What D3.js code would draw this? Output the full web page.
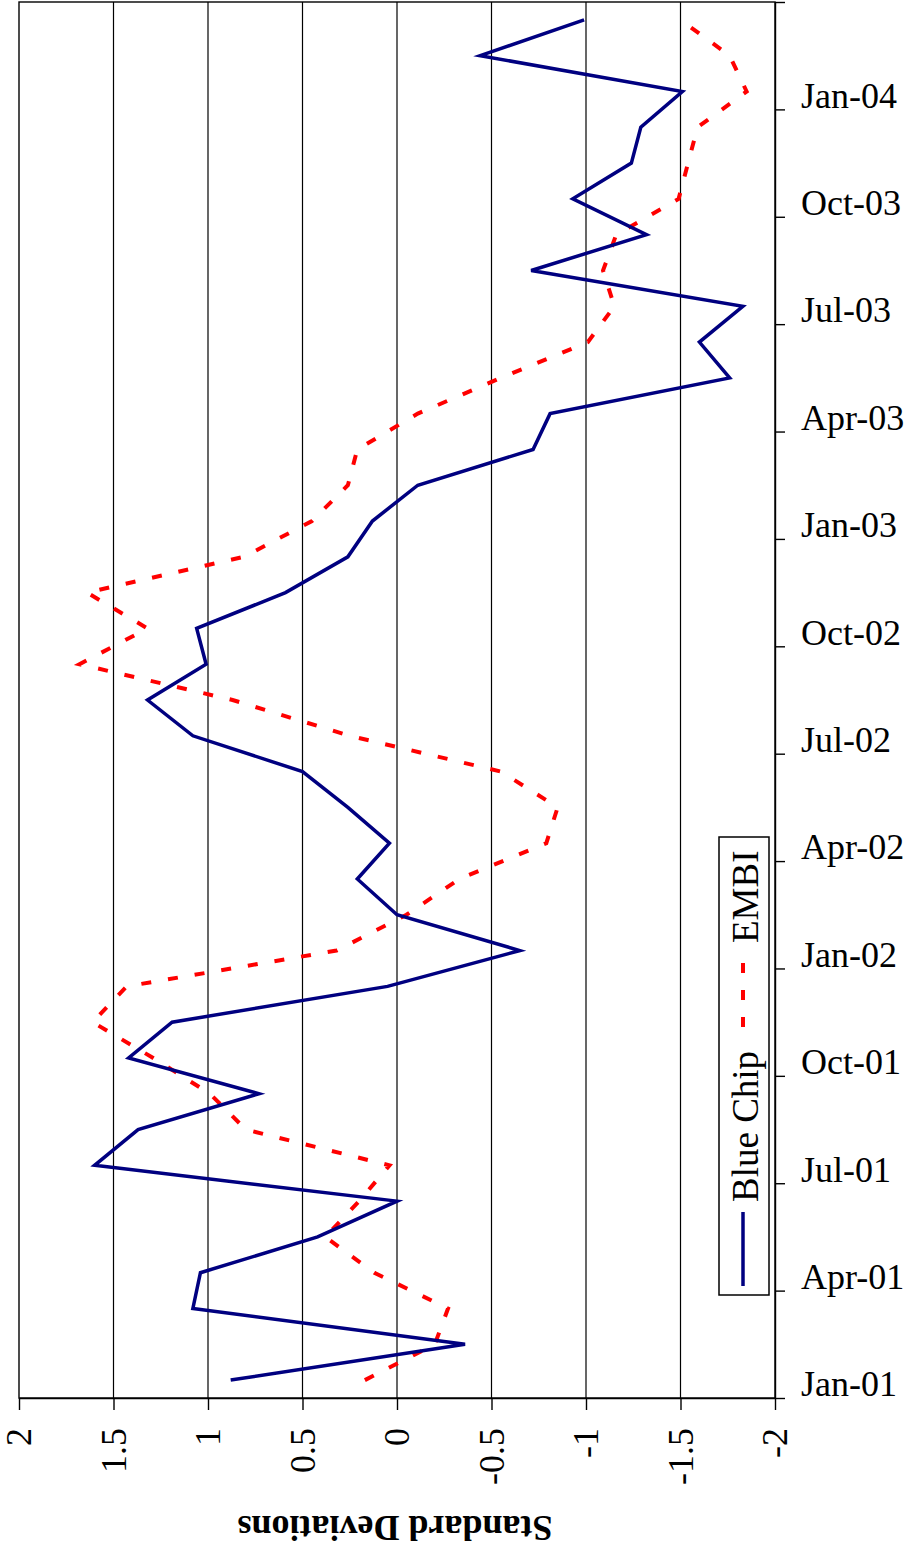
<!DOCTYPE html>
<html>
<head>
<meta charset="utf-8">
<script src="https://cdn.jsdelivr.net/npm/d3@7"></script>
<style>
  body { margin: 0; background: #fff; }
  svg text { font-family: "Liberation Serif", "Times New Roman", serif; fill: #000; }
</style>
</head>
<body>
<div id="my_chart"></div>
<script>
// categories: one per month, Jan-01 .. Mar-04
var months = ["Jan-01","Feb-01","Mar-01","Apr-01","May-01","Jun-01","Jul-01","Aug-01","Sep-01","Oct-01","Nov-01","Dec-01",
              "Jan-02","Feb-02","Mar-02","Apr-02","May-02","Jun-02","Jul-02","Aug-02","Sep-02","Oct-02","Nov-02","Dec-02",
              "Jan-03","Feb-03","Mar-03","Apr-03","May-03","Jun-03","Jul-03","Aug-03","Sep-03","Oct-03","Nov-03","Dec-03",
              "Jan-04","Feb-04","Mar-04"];

// series values (standard deviations)
var blueChip = [0.88,-0.36,1.08,1.04,0.42,0.00,1.60,1.37,0.73,1.42,1.19,0.05,
                -0.65,0.00,0.21,0.04,0.26,0.50,1.08,1.32,1.01,1.06,0.59,0.26,
                0.13,-0.11,-0.72,-0.81,-1.76,-1.60,-1.83,-0.71,-1.32,-0.93,-1.24,-1.29,
                -1.51,-0.44,-0.99];
var embi = [0.17,-0.20,-0.27,0.12,0.38,0.20,0.04,0.80,0.99,1.29,1.61,1.43,
            0.32,-0.05,-0.33,-0.79,-0.85,-0.55,0.25,0.87,1.68,1.32,1.64,0.81,
            0.45,0.26,0.21,-0.11,-0.55,-1.01,-1.15,-1.09,-1.16,-1.49,-1.54,-1.59,
            -1.85,-1.76,-1.50];

// value axis ticks
var valueTicks = [2,1.5,1,0.5,0,-0.5,-1,-1.5,-2];

// the chart is drawn turned a quarter turn: time runs upward, values run right-to-left
var width = 910, height = 1554,
    plot = {left: 19, right: 775, top: 2, bottom: 1398};

var svg = d3.select("#my_chart")
  .append("svg")
    .attr("width", width)
    .attr("height", height);

// scales
var x = d3.scaleLinear()
  .domain([2, -2])
  .range([plot.left, plot.right]);

var y = d3.scaleLinear()
  .domain([0, months.length])
  .range([plot.bottom, plot.top]);

// gridlines
svg.append("g")
  .selectAll("line")
  .data(valueTicks.slice(1, -1))
  .enter()
  .append("line")
    .attr("x1", function(d) { return x(d); })
    .attr("x2", function(d) { return x(d); })
    .attr("y1", plot.top)
    .attr("y2", plot.bottom)
    .attr("stroke", "#000")
    .attr("stroke-width", 1.2);

// plot border
svg.append("rect")
  .attr("x", plot.left)
  .attr("y", plot.top)
  .attr("width", plot.right - plot.left)
  .attr("height", plot.bottom - plot.top)
  .attr("fill", "none")
  .attr("stroke", "#000")
  .attr("stroke-width", 1.4);

// value axis (along the bottom)
var xAxis = svg.append("g")
  .attr("transform", "translate(0," + plot.bottom + ")")
  .call(d3.axisBottom(x)
    .tickValues(valueTicks)
    .tickSize(12)
    .tickSizeOuter(0)
    .tickFormat(function(d) { return String(d); }));
xAxis.selectAll("line, path").attr("stroke", "#000").attr("stroke-width", 1.4);
xAxis.selectAll("text")
  .attr("x", 0)
  .attr("y", 0)
  .attr("dy", "0.33em")
  .attr("transform", "translate(0,30)rotate(-90)")
  .style("text-anchor", "end")
  .style("font-size", "36px");

// time axis (along the right side), ticks every quarter
var yAxis = svg.append("g")
  .attr("transform", "translate(" + plot.right + ",0)")
  .call(d3.axisRight(y)
    .tickValues(d3.range(0, months.length + 1, 3))
    .tickSize(10)
    .tickSizeOuter(0)
    .tickFormat(function(i) { return months[i] || ""; }));
yAxis.selectAll("line, path").attr("stroke", "#000").attr("stroke-width", 1.4);
yAxis.selectAll("text")
  .attr("x", 26)
  .attr("dy", "-0.06em")
  .style("text-anchor", "start")
  .style("font-size", "36px");

// axis title, upside down
svg.append("text")
  .attr("transform", "translate(395,1516)rotate(180)")
  .style("text-anchor", "middle")
  .style("font-size", "36px")
  .style("font-weight", "bold")
  .text("Standard Deviations");

// lines
var line = d3.line()
  .x(function(d) { return x(d); })
  .y(function(d, i) { return y(i + 0.5); });

svg.append("path")
  .datum(embi)
  .attr("d", line)
  .attr("fill", "none")
  .attr("stroke", "#ff0000")
  .attr("stroke-width", 4)
  .attr("stroke-dasharray", "10,17");

svg.append("path")
  .datum(blueChip)
  .attr("d", line)
  .attr("fill", "none")
  .attr("stroke", "#000080")
  .attr("stroke-width", 3.5);

// legend
var legend = svg.append("g");
legend.append("rect")
  .attr("x", 719).attr("y", 837)
  .attr("width", 50).attr("height", 458)
  .attr("fill", "#fff")
  .attr("stroke", "#000")
  .attr("stroke-width", 1.5);

legend.append("line")
  .attr("x1", 743).attr("x2", 743)
  .attr("y1", 1286).attr("y2", 1212)
  .attr("stroke", "#000080")
  .attr("stroke-width", 3.5);
legend.append("text")
  .attr("transform", "translate(758,1202)rotate(-90)")
  .style("font-size", "37px")
  .text("Blue Chip");

legend.append("line")
  .attr("x1", 743).attr("x2", 743)
  .attr("y1", 1027).attr("y2", 953)
  .attr("stroke", "#ff0000")
  .attr("stroke-width", 4)
  .attr("stroke-dasharray", "10,17");
legend.append("text")
  .attr("transform", "translate(758,943)rotate(-90)")
  .style("font-size", "37px")
  .text("EMBI");
</script>
</body>
</html>
